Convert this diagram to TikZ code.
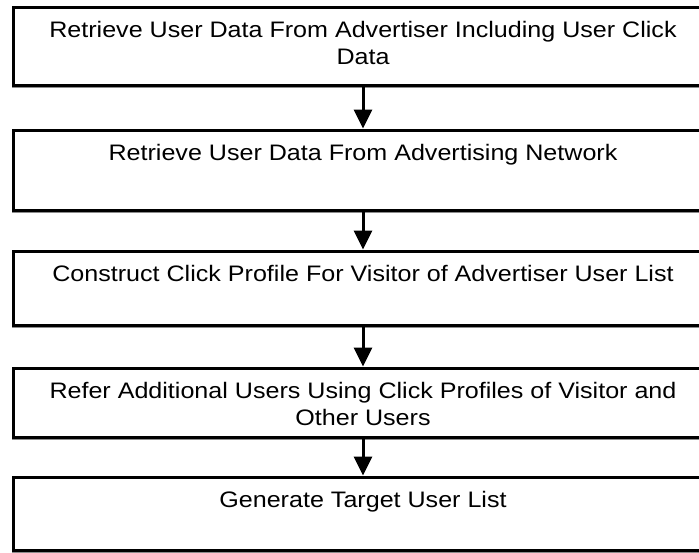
\documentclass[tikz,border=0pt]{standalone}
\usepackage{fontspec}
\setmainfont{Liberation Sans}[FakeStretch=1.12]
\usepackage{tikz}
\usetikzlibrary{arrows.meta,shadows}
\tikzset{
  stepbox/.style={draw, line width=3pt, fill=white, minimum width=700pt, inner sep=0pt,
    drop shadow={shadow xshift=-1.5pt, shadow yshift=-2.5pt, fill=black!45, opacity=1}},
  steptext/.style={anchor=north, inner sep=0pt, align=center,
    font=\fontsize{22.4}{27}\selectfont},
  flowArrow/.style={-{Triangle[width=18pt,length=19pt]}, line width=3pt}
}
\newcommand{\StepBox}[4]{% name, center y, height, text
  \node[stepbox, minimum height=#3pt] (#1) at (363,#2) {};
  \node[steptext, yshift=-15.5pt] (#1t) at (#1.north) {#4};
}

\begin{document}
\begin{tikzpicture}[x=1pt, y=-1pt]
  \useasboundingbox (0,0) rectangle (699,552);
  % Steps
  \StepBox{retrieveAdv}{46}{78}{Retrieve User Data From Advertiser Including User Click\\Data}
  \StepBox{retrieveNet}{170}{80}{Retrieve User Data From Advertising Network}
  \StepBox{construct}{288}{74}{Construct Click Profile For Visitor of Advertiser User List}
  \StepBox{refer}{402.5}{69}{Refer Additional Users Using Click Profiles of Visitor and\\Other Users}
  \StepBox{generate}{513.5}{73}{Generate Target User List}
  % Flow
  \draw[flowArrow] (retrieveAdv) -- (retrieveNet);
  \draw[flowArrow] (retrieveNet) -- (construct);
  \draw[flowArrow] (construct) -- (refer);
  \draw[flowArrow] (refer) -- (generate);
\end{tikzpicture}
\end{document}
